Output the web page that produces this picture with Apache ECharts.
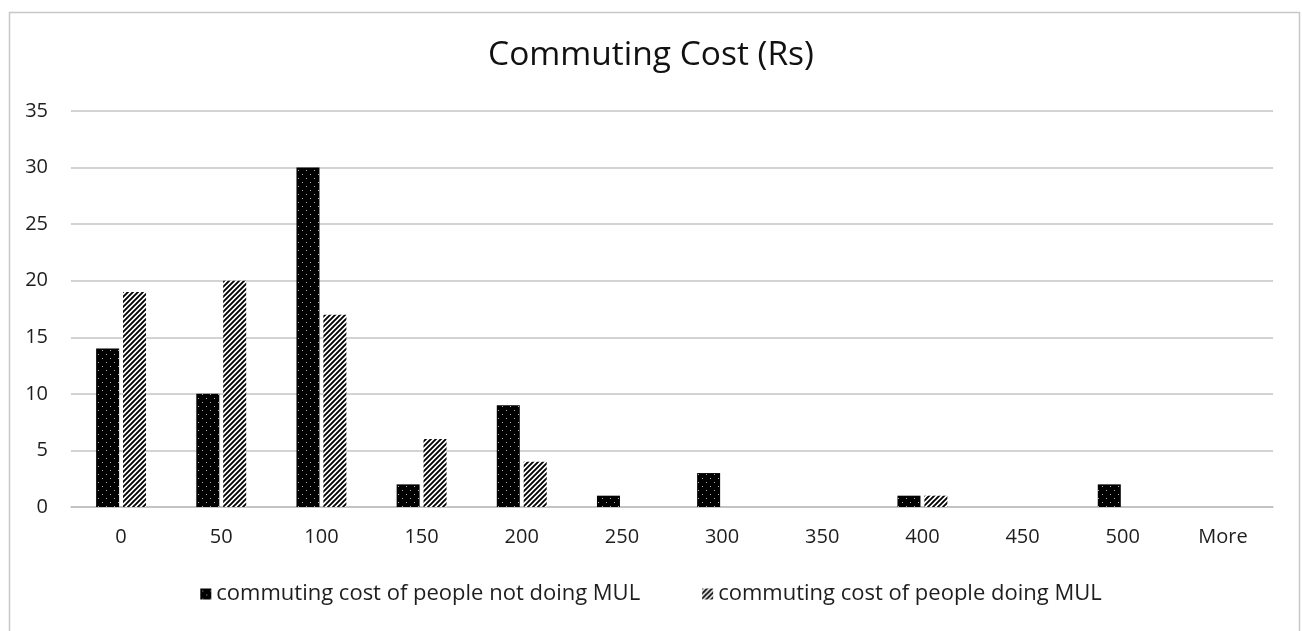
<!DOCTYPE html>
<html>
<head>
<meta charset="utf-8">
<script src="https://cdn.jsdelivr.net/npm/echarts@6/dist/echarts.min.js"></script>
<style>
  html, body { margin: 0; padding: 0; background: #fff; }
  #div_chart { width: 1302px; height: 631px; }
</style>
</head>
<body>
<div id="div_chart"></div>
<script>
"use strict";

// data
const categories = ["0", "50", "100", "150", "200", "250", "300", "350", "400", "450", "500", "More"];
const not_doing_mul = [14, 10, 30, 2, 9, 1, 3, 0, 1, 0, 2, 0];
const doing_mul = [19, 20, 17, 6, 4, 0, 0, 0, 1, 0, 0, 0];
const y_ticks_max = 35;

const font_family = "'Open Sans', 'DejaVu Sans', sans-serif";
const text_color = "#1e1e1e";

// fill patterns (black with white dots, white with black hatch)
function make_dots() {
  const c = document.createElement("canvas");
  c.width = 8; c.height = 8;
  const ctx = c.getContext("2d");
  ctx.fillStyle = "#000";
  ctx.fillRect(0, 0, 8, 8);
  ctx.fillStyle = "#b0b0b0";
  ctx.fillRect(2, 2, 1, 1);
  ctx.fillRect(6, 6, 1, 1);
  return c;
}

function make_hatch() {
  const s = 5;
  const c = document.createElement("canvas");
  c.width = s; c.height = s;
  const ctx = c.getContext("2d");
  ctx.fillStyle = "#fff";
  ctx.fillRect(0, 0, s, s);
  ctx.strokeStyle = "#000";
  ctx.lineWidth = 1.9;
  ctx.beginPath();
  ctx.moveTo(-1, 1); ctx.lineTo(1, -1);
  ctx.moveTo(0, s); ctx.lineTo(s, 0);
  ctx.moveTo(s - 1, s + 1); ctx.lineTo(s + 1, s - 1);
  ctx.stroke();
  return c;
}

const chart = echarts.init(document.getElementById("div_chart"));

chart.setOption({
  animation: false,
  textStyle: { fontFamily: font_family },
  title: {
    text: "Commuting Cost (Rs)",
    left: "center",
    top: 33,
    textStyle: { fontFamily: font_family, fontSize: 33.5, fontWeight: "normal", color: "#111" }
  },
  graphic: [{
    type: "rect",
    left: 7, top: 10,
    shape: { width: 1290, height: 640 },
    style: { fill: null, stroke: "#c8c8c8", lineWidth: 1.5 },
    silent: true
  }],
  legend: {
    bottom: 21,
    left: "center",
    icon: "rect",
    itemWidth: 11,
    itemHeight: 11,
    itemGap: 62,
    textStyle: { fontFamily: font_family, fontSize: 22, color: text_color },
    data: ["commuting cost of people not doing MUL", "commuting cost of people doing MUL"]
  },
  grid: { left: 71, right: 29, top: 111, bottom: 124 },
  xAxis: {
    type: "category",
    data: categories,
    axisLine: { lineStyle: { color: "#bfbfbf", width: 1.5 } },
    axisTick: { show: false },
    axisLabel: { fontSize: 20, color: text_color, margin: 20 }
  },
  yAxis: {
    type: "value",
    min: 0,
    max: y_ticks_max,
    interval: 5,
    axisLine: { show: false },
    axisTick: { show: false },
    splitLine: { lineStyle: { color: "#c4c4c4", width: 1.5 } },
    axisLabel: { fontSize: 20, color: text_color, margin: 23 }
  },
  series: [
    {
      type: "bar",
      name: "commuting cost of people not doing MUL",
      data: not_doing_mul,
      barWidth: 23,
      barGap: "17%",
      itemStyle: { color: { image: make_dots(), repeat: "repeat" } }
    },
    {
      type: "bar",
      name: "commuting cost of people doing MUL",
      data: doing_mul,
      barWidth: 23,
      barGap: "17%",
      itemStyle: { color: { image: make_hatch(), repeat: "repeat" } }
    }
  ]
});
</script>
</body>
</html>
